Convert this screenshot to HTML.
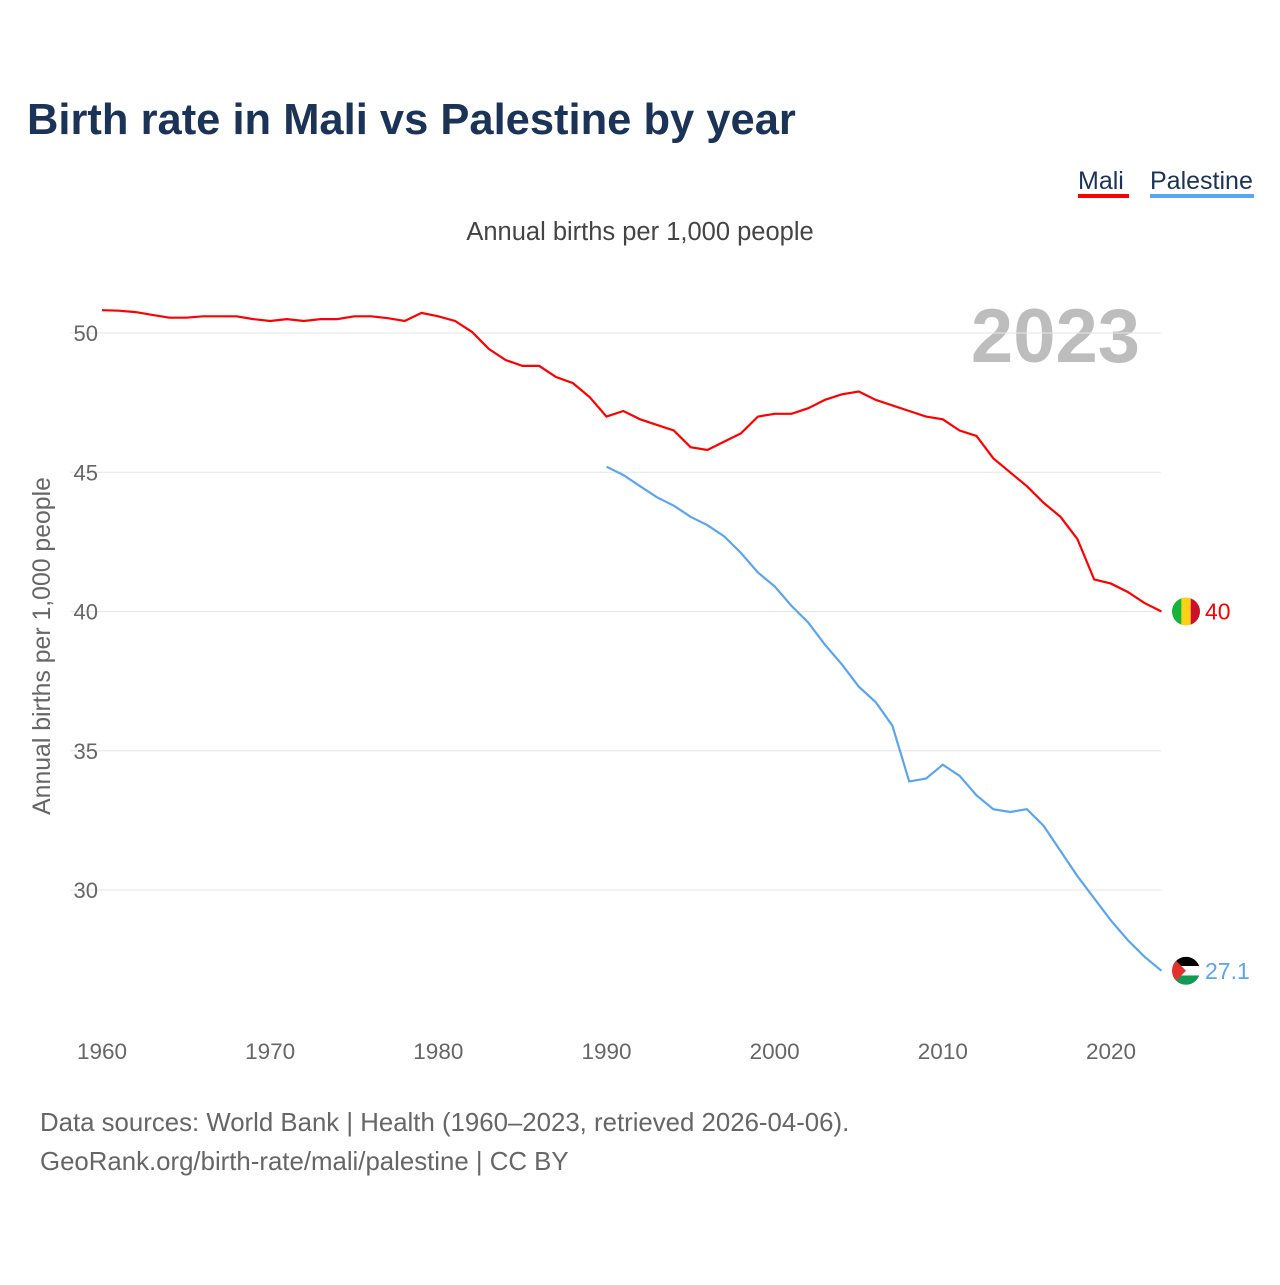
<!DOCTYPE html>
<html><head><meta charset="utf-8"><style>
body{margin:0;background:#fff;font-family:"Liberation Sans",sans-serif;}
svg text{font-family:"Liberation Sans",sans-serif;}
</style></head><body>
<svg width="1280" height="1280">
<text x="27" y="134" font-size="43.5" font-weight="bold" fill="#1b3356">Birth rate in Mali vs Palestine by year</text>
<g><text x="1078" y="189" font-size="25" fill="#1b3356">Mali</text><rect x="1078" y="194" width="51" height="4" fill="#ff0000"/></g>
<g><text x="1150" y="189" font-size="25" fill="#1b3356">Palestine</text><rect x="1150" y="194" width="104" height="4" fill="#5aa5f0"/></g>
<text x="640" y="240" font-size="25.5" fill="#444" text-anchor="middle">Annual births per 1,000 people</text>
<text x="1140" y="362" font-size="76" font-weight="bold" fill="#bdbdbd" text-anchor="end">2023</text>
<text transform="translate(50,646) rotate(-90)" font-size="24.8" fill="#666" text-anchor="middle">Annual births per 1,000 people</text>
<g id="grid"></g><g id="lines"></g><g id="labels"></g>
<text x="40" y="1131" font-size="25.8" fill="#666">Data sources: World Bank | Health (1960–2023, retrieved 2026-04-06).</text>
<text x="40" y="1170" font-size="25.8" fill="#666">GeoRank.org/birth-rate/mali/palestine | CC BY</text>
</svg>
<script>
const maliYears=[];for(let y=1960;y<=2023;y++)maliYears.push(y);
const maliValues=[50.82,50.8,50.75,50.65,50.55,50.55,50.6,50.6,50.6,50.5,50.43,50.5,50.43,50.5,50.5,50.6,50.6,50.53,50.43,50.72,50.6,50.43,50.04,49.43,49.03,48.82,48.82,48.42,48.2,47.7,47.0,47.2,46.9,46.7,46.5,45.9,45.8,46.1,46.4,47.0,47.1,47.1,47.3,47.6,47.8,47.9,47.6,47.4,47.2,47.0,46.9,46.5,46.3,45.5,45.0,44.5,43.9,43.4,42.6,41.15,41.0,40.7,40.3,40.0];
const palYears=[];for(let y=1990;y<=2023;y++)palYears.push(y);
const palValues=[45.2,44.9,44.5,44.1,43.8,43.4,43.1,42.7,42.1,41.4,40.9,40.2,39.6,38.8,38.1,37.3,36.75,35.9,33.9,34.0,34.5,34.1,33.4,32.9,32.8,32.9,32.3,31.4,30.5,29.7,28.9,28.2,27.6,27.1];
const yTicks=[30,35,40,45,50];
const xTicks=[1960,1970,1980,1990,2000,2010,2020];
const X=y=>102+(y-1960)*(1111-102)/60;
const Y=v=>333+(50-v)*(890-333)/20;
const NS="http://www.w3.org/2000/svg";
function mk(t,a,p){const e=document.createElementNS(NS,t);for(const k in a)e.setAttribute(k,a[k]);p.appendChild(e);return e;}
const grid=document.getElementById('grid'),lines=document.getElementById('lines'),labels=document.getElementById('labels');
yTicks.forEach(v=>{const l=mk('line',{x1:70,x2:1161,y1:Y(v),y2:Y(v),stroke:'#e6e6e6','stroke-width':1},grid);


const t=mk('text',{x:98,y:Y(v)+8,'font-size':22,fill:'#666','text-anchor':'end'},grid);t.textContent=v;

});
xTicks.forEach(v=>{const t=mk('text',{x:X(v),y:1059,'font-size':22.5,fill:'#666','text-anchor':'middle'},grid);t.textContent=v;

});
function line(xs,vs,c,n){const p=mk('path',{d:xs.map((x,i)=>(i?'L':'M')+X(x).toFixed(1)+','+Y(vs[i]).toFixed(1)).join(''),fill:'none',stroke:c,'stroke-width':2.2},lines);

}
line(maliYears,maliValues,'#ff0000','mali-line');
line(palYears,palValues,'#5aa5f0','palestine-line');
const mv=maliValues[maliValues.length-1],pv=palValues[palValues.length-1];
const fx=1186;
const defs=mk('defs',{},labels);
const c1=mk('clipPath',{id:'cm'},defs);mk('circle',{cx:fx,cy:Y(mv),r:14},c1);
const c2=mk('clipPath',{id:'cp'},defs);mk('circle',{cx:fx,cy:Y(pv),r:14},c2);
const gm=mk('g',{'clip-path':'url(#cm)'},labels);


mk('rect',{x:fx-14,y:Y(mv)-14,width:10,height:28,fill:'#14b53a'},gm);
mk('rect',{x:fx-4.7,y:Y(mv)-14,width:9.4,height:28,fill:'#fcd116'},gm);
mk('rect',{x:fx+4.7,y:Y(mv)-14,width:10,height:28,fill:'#ce1126'},gm);
const gp=mk('g',{'clip-path':'url(#cp)'},labels);


const py=Y(pv);
mk('rect',{x:fx-14,y:py-14,width:28,height:9.4,fill:'#000'},gp);
mk('rect',{x:fx-14,y:py-4.7,width:28,height:9.4,fill:'#fff'},gp);
mk('rect',{x:fx-14,y:py+4.7,width:28,height:10,fill:'#149954'},gp);
mk('polygon',{points:`${fx-14},${py-14} ${fx},${py} ${fx-14},${py+14}`,fill:'#e4312b'},gp);
const t1=mk('text',{x:1205,y:Y(mv)+8,'font-size':23,fill:'#ff0000'},labels);t1.textContent=mv;


const t2=mk('text',{x:1205,y:Y(pv)+8,'font-size':23,fill:'#5aa5f0'},labels);t2.textContent=pv;


</script>
</body></html>
